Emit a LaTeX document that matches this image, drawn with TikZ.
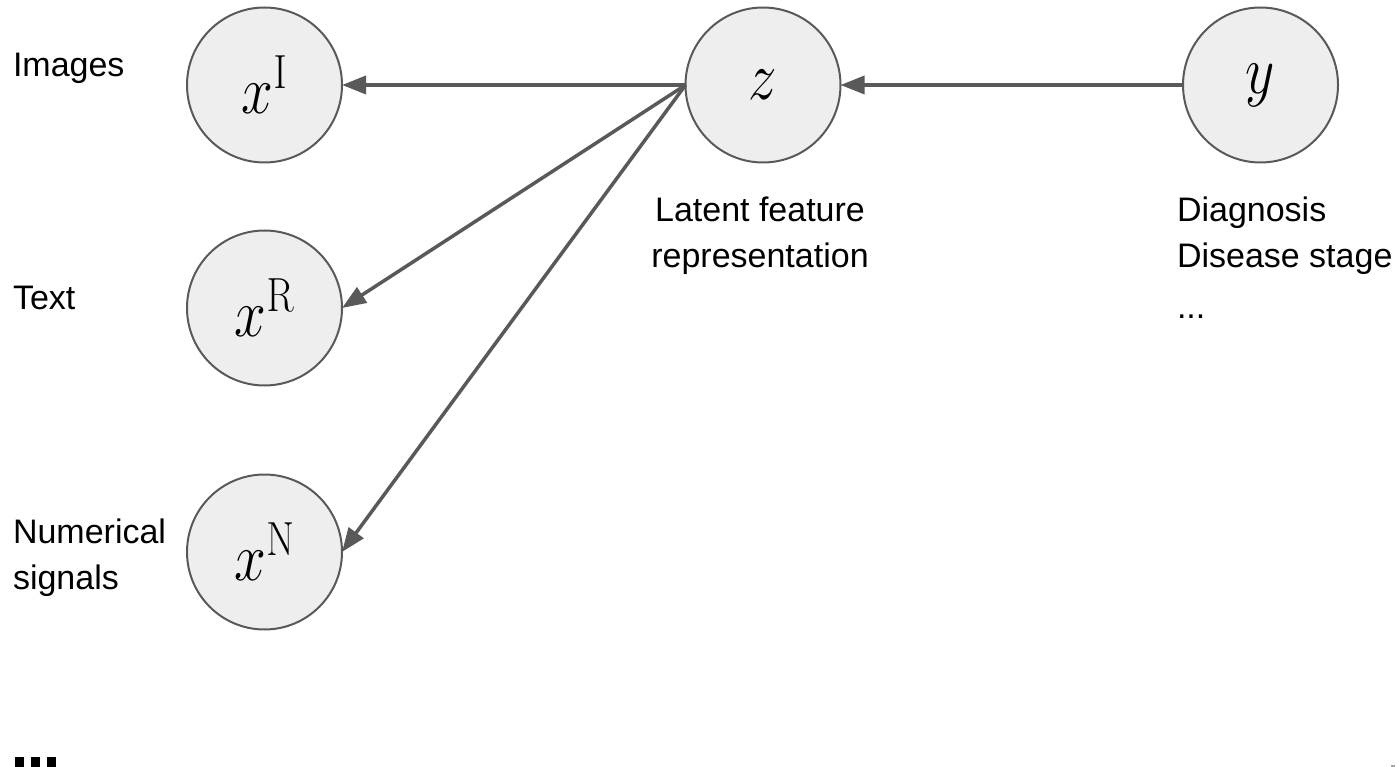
\documentclass[tikz,border=0pt]{standalone}
\RequirePackage{fix-cm}
\usepackage{graphicx}
\usepackage[no-math]{fontspec}
\setmainfont{Liberation Sans}
\usetikzlibrary{arrows.meta}
\definecolor{nodefill}{HTML}{EEEEEE}
\definecolor{edge}{HTML}{595959}
\tikzset{
  var/.style={circle, draw=edge, line width=2pt, fill=nodefill, minimum size=155pt, inner sep=0pt, outer sep=0pt,
    font=\fontsize{57}{60}\selectfont},
  lbl/.style={anchor=base west, inner sep=0pt, outer sep=0pt, font=\fontsize{34}{40}\selectfont},
  clbl/.style={anchor=base, inner sep=0pt, outer sep=0pt, font=\fontsize{34}{40}\selectfont},
  conn/.style={draw=edge, line width=3.5pt, -{Triangle[length=24pt,width=18pt]}, shorten <=0pt},
  sq/.style={fill=black, draw=none}
}
\newcommand{\vs}[1]{\scalebox{1}[1.2]{#1}}
\begin{document}
\begin{tikzpicture}[x=1pt,y=-1pt]
\useasboundingbox (0,0) rectangle (1399,767);
% nodes
\node[var] (xI) at (264.5,85) {\vs{$x^{\mathrm{I}}$}};
\node[var] (xR) at (264.5,308) {\vs{$x^{\mathrm{R}}$}};
\node[var] (xN) at (264.5,552) {\vs{$x^{\mathrm{N}}$}};
\node[var] (z) at (763,85) {\vs{$z$}};
\node[var] (y) at (1260.5,85) {\vs{$y$}};
% connectors
\draw[conn] (z.west) -- (xI.east);
\draw[conn] (z.west) -- (xR.east);
\draw[conn] (z.west) -- (xN.east);
\draw[conn] (y.west) -- (z.east);
% labels
\node[lbl] (l1) at (13,77) {Images};
\node[lbl] (l2) at (13,309) {Text};
\node[lbl] (l3) at (13,543) {Numerical};
\node[lbl] (l4) at (13,589) {signals};
\node[clbl] (l5) at (760,222) {Latent feature};
\node[clbl] (l6) at (760,268) {representation};
\node[lbl] (l7) at (1177,222) {Diagnosis};
\node[lbl] (l8) at (1177,268) {Disease stage};
\node[lbl] (l9) at (1177,318) {...};
% corner marks
\fill[sq] (15,757) rectangle (24,767);
\fill[sq] (31,757) rectangle (40,767);
\fill[sq] (47,757) rectangle (56,767);
\fill[gray!70] (1391,765) rectangle (1395,767);
\end{tikzpicture}
\end{document}
